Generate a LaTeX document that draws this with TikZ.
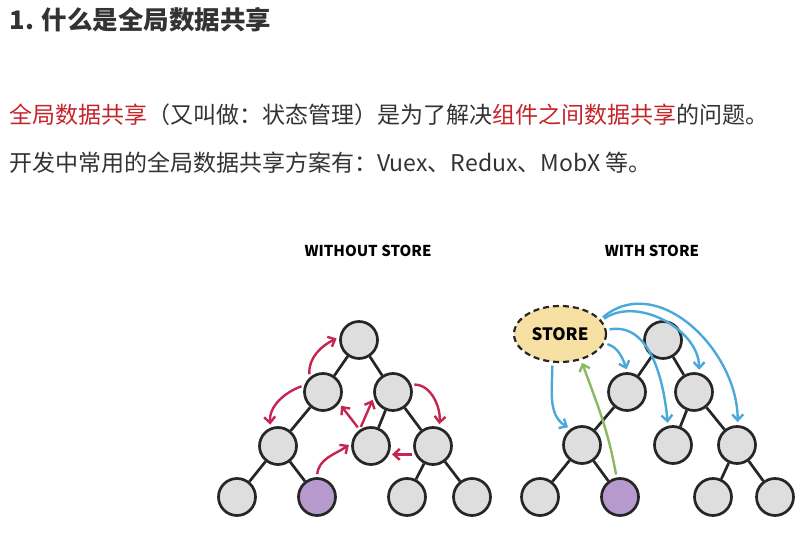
\documentclass[tikz,border=0pt]{standalone}
\usepackage{fontspec}
\setmainfont{Noto Sans CJK SC}
\usepackage{tikz}
\usetikzlibrary{shapes.geometric, positioning, arrows.meta}
\definecolor{txtgray}{HTML}{333333}
\definecolor{hlred}{HTML}{C4252B}
\definecolor{arrred}{HTML}{C72551}
\definecolor{arrblue}{HTML}{4AA8DA}
\definecolor{arrgreen}{HTML}{8CB860}
\definecolor{compgray}{HTML}{DEDEDE}
\definecolor{pickpurple}{HTML}{B69ACE}
\definecolor{storeyellow}{HTML}{F6E0A4}

\begin{document}
\begin{tikzpicture}[
  x=1pt, y=1pt,
  comp/.style={draw=black!85,circle,line width=2.7pt,fill=compgray,minimum size=37pt,inner sep=0pt},
  pick/.style={comp,fill=pickpurple},
  link/.style={draw=black!85,line width=2.7pt},
  redarr/.style={draw=arrred,line width=2.4pt,-{Straight Barb[length=6pt,width=11pt]},shorten <=3pt,shorten >=3pt},
  bluearr/.style={redarr,draw=arrblue},
  greenarr/.style={redarr,draw=arrgreen}
]
\useasboundingbox (0,0) rectangle (803,537);

% texts
\node[anchor=west,text=txtgray,font=\bfseries\fontsize{25.5}{30}\selectfont] (title) at (6,517) {1. 什么是全局数据共享};
\node[anchor=west,text=txtgray,font=\fontsize{23}{27}\selectfont] (line1) at (6,422)
  {\textcolor{hlred}{全局数据共享}（又叫做：状态管理）是为了解决\textcolor{hlred}{组件之间数据共享}的问题。};
\node[anchor=west,text=txtgray,font=\fontsize{23}{27}\selectfont] (line2) at ([yshift=-48pt]line1.west)
  {开发中常用的全局数据共享方案有：Vuex、Redux、MobX 等。};

\node[font=\bfseries\fontsize{15}{18}\selectfont] (nostore) at (368,286) {WITHOUT STORE};
\node[font=\bfseries\fontsize{15}{18}\selectfont] (withstore) at (652,286) {WITH STORE};

% tree without store
\node[comp] (w0) at (359,197) {};
\node[comp] (w1) at (323,145) {};
\node[comp] (w2) at (393,145) {};
\node[comp] (w3) at (278,91) {};
\node[comp] (w4) at (371,91) {};
\node[comp] (w5) at (433,91) {};
\node[comp] (w6) at (237,40) {};
\node[pick] (w7) at (317,40) {};
\node[comp] (w8) at (407,40) {};
\node[comp] (w9) at (472,40) {};

\path (w0) edge[link] (w1)
(w0) edge[link] (w2)
(w1) edge[link] (w3)
(w2) edge[link] (w4)
(w2) edge[link] (w5)
(w3) edge[link] (w6)
(w3) edge[link] (w7)
(w5) edge[link] (w8)
(w5) edge[link] (w9);

\draw[redarr] (w1.132) to[out=95,in=205] (w0.172);
\draw[redarr] (w1.160) to[out=200,in=95] (w3.112);
\draw[redarr] (w4.125) -- (w1.-35);
\draw[redarr] (w4.125) -- (w2.195);
\draw[redarr] (w2.22) to[out=0,in=85] (w5.72);
\draw[redarr] (w5.205) -- (w4.-25);
\draw[redarr] (w7.90) to[out=85,in=215] (w4.172);

% tree with store
\node[comp] (s0) at (663,197) {};
\node[comp] (s1) at (627,145) {};
\node[comp] (s2) at (694,145) {};
\node[comp] (s3) at (582,92) {};
\node[comp] (s4) at (673,92) {};
\node[comp] (s5) at (737,92) {};
\node[comp] (s6) at (540,40) {};
\node[pick] (s7) at (620,40) {};
\node[comp] (s8) at (713,40) {};
\node[comp] (s9) at (775,40) {};

\path (s0) edge[link] (s1)
(s0) edge[link] (s2)
(s1) edge[link] (s3)
(s2) edge[link] (s4)
(s2) edge[link] (s5)
(s3) edge[link] (s6)
(s3) edge[link] (s7)
(s5) edge[link] (s8)
(s5) edge[link] (s9);

\node[ellipse,draw=black!85,dash pattern=on 6pt off 4pt,line width=2.2pt,fill=storeyellow,
  minimum width=92pt,minimum height=56pt,font=\bfseries\fontsize{17}{20}\selectfont] (store) at (560,203) {STORE};

\draw[bluearr] (store.255) to[out=270,in=150] (s3.125);
\draw[bluearr] (store.-12) to[out=-15,in=110] (s1.88);
\draw[bluearr] (store.5) to[out=10,in=95] (s4.105);
\draw[bluearr] (store.18) to[out=35,in=90] (s2.75);
\draw[bluearr] (store.20) to[out=40,in=90,looseness=1.1] (s5.88);
\draw[greenarr] (s7.100) to[out=100,in=-70] (store.-51);

\end{tikzpicture}
\end{document}
